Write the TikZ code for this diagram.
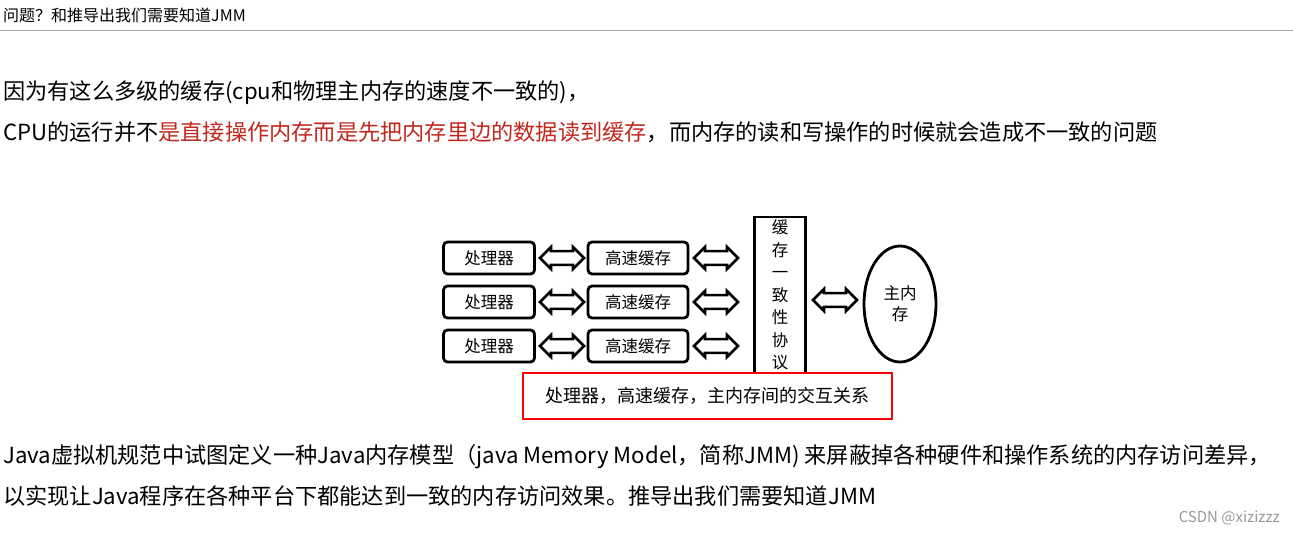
\documentclass[tikz,border=0pt]{standalone}
\usepackage{fontspec}
\setmainfont{Noto Sans CJK SC}
\usetikzlibrary{shapes.arrows,shapes.geometric}
\definecolor{redtxt}{RGB}{192,40,30}
\tikzset{
  pbox/.style={draw,line width=2.8pt,rounded corners=4pt,minimum width=91pt,minimum height=32pt,inner sep=0pt,font=\fontsize{16.5}{18}\selectfont},
  cbox/.style={pbox,minimum width=100pt},
  darr/.style={draw,double arrow,line width=2.6pt,minimum height=44pt,minimum width=22pt,double arrow head extend=2pt,inner sep=2pt,fill=white},
  para/.style={anchor=west,inner sep=0pt,font=\fontsize{22.2}{26}\selectfont}
}
\begin{document}
\begin{tikzpicture}[x=1pt,y=-1pt]
\useasboundingbox (0,0) rectangle (1293,536);
\fill[white] (0,0) rectangle (1293,536);
\node[anchor=west,inner sep=0pt,font=\fontsize{16}{18}\selectfont] (hdr) at (3,15) {问题？和推导出我们需要知道JMM};
\draw[gray!70,line width=1pt] (0,30) -- (1293,30);
\node[para] (l1) at (3,93) {因为有这么多级的缓存(cpu和物理主内存的速度不一致的)，};
\node[para] (l2) at (3,132) {CPU的运行并不\textcolor{redtxt}{是直接操作内存而是先把内存里边的数据读到缓存}，而内存的读和写操作的时候就会造成不一致的问题};
\foreach \i/\y in {1/258,2/302,3/346}{
  \node[pbox] (p\i) at (489,\y) {处理器};
  \node[cbox] (c\i) at (638,\y) {高速缓存};
  \node[darr] (a\i) at (562,\y) {};
  \node[darr] (b\i) at (716,\y) {};
}
\node[draw,line width=2.8pt,minimum width=51pt,minimum height=156pt,inner sep=0pt,align=center,font=\fontsize{16.5}{22.5}\selectfont] (coh) at (780,295) {缓\\存\\一\\致\\性\\协\\议};
\node[darr] (m) at (835,300) {};
\node[draw,ellipse,line width=2.8pt,minimum width=72pt,minimum height=116pt,align=center,font=\fontsize{16.5}{21}\selectfont] (mem) at (900,304) {主内\\存};
\node[draw=red,line width=2.2pt,minimum width=369pt,minimum height=46pt,inner sep=0pt,font=\fontsize{18}{20}\selectfont] (cap) at (707.5,396) {处理器，高速缓存，主内存间的交互关系};
\node[para] (l3) at (3,457) {Java虚拟机规范中试图定义一种Java内存模型（java Memory Model，简称JMM) 来屏蔽掉各种硬件和操作系统的内存访问差异，};
\node[para] (l4) at (3,496) {以实现让Java程序在各种平台下都能达到一致的内存访问效果。推导出我们需要知道JMM};
\node[anchor=east,inner sep=0pt,text=gray!80,font=\fontsize{15}{17}\selectfont] (wm) at (1280,518) {CSDN @xizizzz};
\end{tikzpicture}
\end{document}
